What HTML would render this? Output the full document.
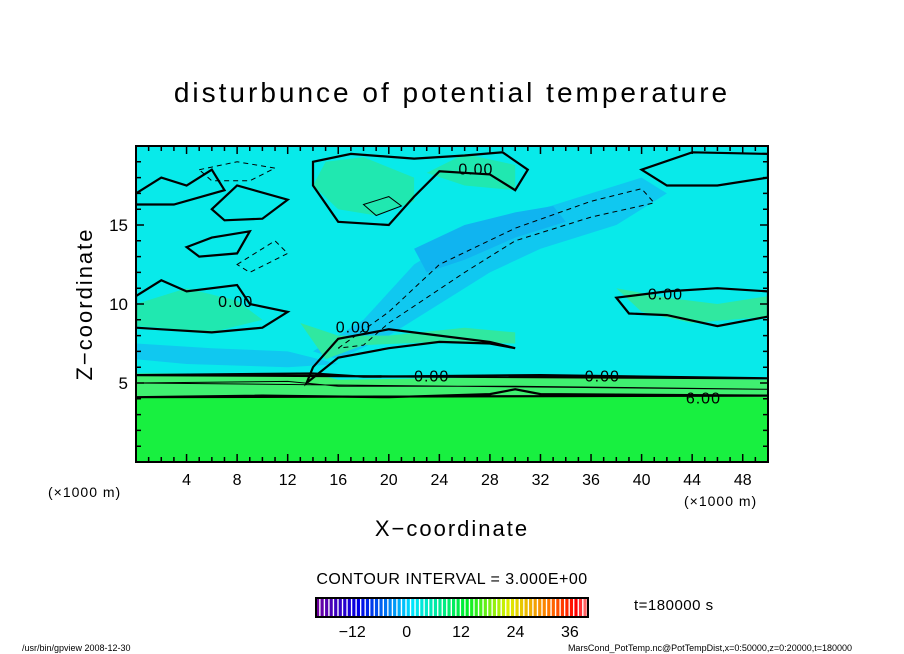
<!DOCTYPE html>
<html><head><meta charset="utf-8"><style>
body{margin:0;background:#fff;}
svg{display:block;font-family:"Liberation Sans",sans-serif;}
</style></head><body>
<svg id="c" width="904" height="654" viewBox="0 0 904 654">
<text x="452" y="102" text-anchor="middle" font-size="28" letter-spacing="3">disturbunce of potential temperature</text>
<defs><clipPath id="pc"><rect x="136" y="146" width="632" height="316"/></clipPath></defs>
<g id="plot" clip-path="url(#pc)"></g>
<rect x="136" y="146" width="632" height="316" fill="none" stroke="#000" stroke-width="2"/>
<g id="axes"></g>
<text x="92" y="304" font-size="22" letter-spacing="2" text-anchor="middle" transform="rotate(-90 92 304)">Z−coordinate</text>
<text x="452" y="536" font-size="22" letter-spacing="2" text-anchor="middle">X−coordinate</text>
<text x="48" y="497" font-size="14" letter-spacing="1">(×1000 m)</text>
<text x="684" y="506" font-size="14" letter-spacing="1">(×1000 m)</text>
<text x="452" y="584" font-size="16" letter-spacing="0.5" text-anchor="middle">CONTOUR INTERVAL = 3.000E+00</text>
<g id="cbar"></g>
<text x="634" y="610" font-size="15" letter-spacing="0.5">t=180000 s</text>
<text x="22" y="651" font-size="9">/usr/bin/gpview  2008-12-30</text>
<text x="852" y="651" font-size="9" text-anchor="end">MarsCond_PotTemp.nc@PotTempDist,x=0:50000,z=0:20000,t=180000</text>
</svg>
<script>
const xTicks=[4,8,12,16,20,24,28,32,36,40,44,48];
const zTicks=[5,10,15];
const cbLabels=[-12,0,12,24,36];
const cbMin=-20, cbMax=40;
const regions=[
 ["#10c8f0",[[14,7],[18,9],[22,12.5],[26,14.5],[30,15.5],[36,17],[40,18],[42,17],[38,15],[32,13.5],[28,12],[24,10],[20,8],[16,6.5]]],
 ["#10b4f0",[[22,13.5],[26,15],[30,15.8],[33,16.2],[34,15.2],[30,14.2],[26,12.8],[23,12]]],
 ["#20e8b0",[[14,17.5],[16,16],[19,15.6],[22,16.5],[22,18],[18,19.3],[15,19]]],
 ["#20e8b0",[[23,18.3],[26,17.5],[30,17.2],[30,18.8],[26,19.5]]],
 ["#30e8a0",[[13,8.8],[16,8],[20,8],[26,8.5],[30,8.2],[30,7.5],[24,7.6],[18,7.4],[15,6.5]]],
 ["#30e8a0",[[38,11],[42,10.4],[46,10],[50,10.5],[50,9.2],[44,8.8],[40,9.5]]],
 ["#20e8b0",[[0,10],[4,11],[8,10.2],[10,9],[6,8.2],[2,8.5],[0,8.6]]],
 ["#10c8f0",[[0,7.5],[6,7.2],[12,7],[16,6.2],[12,6],[4,6.2],[0,6.5]]],
 ["#40f070",[[0,5.6],[14,5.6],[16,5.2],[32,5.4],[50,5.2],[50,4],[0,4]]],
 ["#18f040",[[0,0],[50,0],[50,4.1],[30,4.2],[0,4.1]]]
];
const lines=[
 [0,2.2,[[0,5.5],[14,5.6],[18,5.4],[32,5.5],[50,5.3]]],
 [0,2.2,[[0,4.1],[10,4.2],[20,4.1],[28,4.3],[30,4.6],[32,4.3],[50,4.2]]],
 [0,1,[[0,5],[12,5.1],[16,4.8],[30,4.8],[50,4.6]]],
 [0,2.2,[[14,6],[16,7.8],[20,8.4],[24,8],[28,7.6],[30,7.2],[28,7.5],[24,7.6],[20,7.2],[16,6.6],[13.5,5]]],
 [0,2.2,[[0,10.5],[2,11.5],[4,10.8],[8,11.2],[9,10],[12,9.5],[10,8.5],[6,8.2],[2,8.4],[0,8.5]]],
 [0,2.2,[[14,17.5],[16,15.2],[20,15],[22,16.8],[24,18.4],[28,18.2],[30,17.2],[31,18.5],[29,19.6],[26,19.4],[22,19.2],[17,19.5],[14,19]]],
 [0,2.2,[[6,16],[8,17.5],[12,16.6],[10,15.4],[7,15.3]]],
 [0,2.2,[[4,13.6],[6,14.2],[9,14.6],[8,13.2],[5,13]]],
 [0,2.2,[[38,10.4],[42,10.8],[46,11],[50,10.8],[50,9.2],[46,8.6],[42,9.3],[39,9.4]]],
 [0,2.2,[[0,17],[2,18],[4,17.5],[6,18.5],[7,17.2],[3,16.3],[0,16.3]]],
 [0,2.2,[[40,18.5],[42,17.5],[46,17.5],[50,18],[50,19.5],[44,19.6]]],
 [1,1,[[16,7.2],[20,9.5],[24,12.5],[30,14.8],[36,16.5],[40,17.3],[41,16.4],[36,15.5],[30,14],[26,12],[20,8.8],[18,7.4]]],
 [1,1,[[5,18.5],[8,19],[11,18.6],[9,17.8],[6,17.8]]],
 [1,1,[[8,12.5],[11,14],[12,13.2],[9,12]]],
 [0,1,[[18,16.3],[20,16.8],[21,16.2],[19,15.6]]]
];
const labels=[["0.00",25.5,18.2],["0.00",6.5,9.8],["0.00",15.8,8.2],["0.00",22,5.1],["0.00",35.5,5.1],["0.00",40.5,10.3],["6.00",43.5,3.7]];
const NS="http://www.w3.org/2000/svg";
const X0=136,X1=768,Y0=462,Y1=146;
function sx(v){return X0+(v/50)*(X1-X0);}
function sz(v){return Y0-(v/20)*(Y0-Y1);}
function cx(v){return 316+(v-cbMin)/(cbMax-cbMin)*(588-316);}
const plot=document.getElementById('plot');
let bg=document.createElementNS(NS,'rect');
bg.setAttribute('x',X0);bg.setAttribute('y',Y1);bg.setAttribute('width',X1-X0);bg.setAttribute('height',Y0-Y1);bg.setAttribute('fill','#08eaea');


plot.appendChild(bg);
function pts(p){return p.map(q=>sx(q[0]).toFixed(1)+','+sz(q[1]).toFixed(1)).join(' ');}
regions.forEach(r=>{
 const e=document.createElementNS(NS,'polygon');
 e.setAttribute('points',pts(r[1]));e.setAttribute('fill',r[0]);
 
 
 plot.appendChild(e);
});
lines.forEach(l=>{
 const e=document.createElementNS(NS,'polygon');
 e.setAttribute('points',pts(l[2]));e.setAttribute('fill','none');e.setAttribute('stroke','#000');
 e.setAttribute('stroke-width',l[1]);if(l[0])e.setAttribute('stroke-dasharray','5,4');
 
 
 plot.appendChild(e);
});
labels.forEach(t=>{
 const e=document.createElementNS(NS,'text');
 e.setAttribute('x',sx(t[1]));e.setAttribute('y',sz(t[2]));e.setAttribute('font-size','16');e.setAttribute('letter-spacing','1');e.textContent=t[0];
 
 
 plot.appendChild(e);
});
const axes=document.getElementById('axes');
for(let v=1;v<50;v++){
 const e=document.createElementNS(NS,'path');const L=(v%4==0)?8:5;
 e.setAttribute('d',`M${sx(v)},${Y0}v${-L}M${sx(v)},${Y1}v${L}`);e.setAttribute('stroke','#000');e.setAttribute('stroke-width','1.5');
 
 
 axes.appendChild(e);
}
for(let v=1;v<20;v++){
 const e=document.createElementNS(NS,'path');const L=(v%5==0)?8:5;
 e.setAttribute('d',`M${X0},${sz(v)}h${L}M${X1},${sz(v)}h${-L}`);e.setAttribute('stroke','#000');e.setAttribute('stroke-width','1.5');
 
 
 axes.appendChild(e);
}
xTicks.forEach(v=>{
 const e=document.createElementNS(NS,'text');
 e.setAttribute('x',sx(v));e.setAttribute('y',485);e.setAttribute('font-size','16');e.setAttribute('text-anchor','middle');e.textContent=v;
 
 
 axes.appendChild(e);
});
zTicks.forEach(v=>{
 const e=document.createElementNS(NS,'text');
 e.setAttribute('x',128);e.setAttribute('y',sz(v)+6);e.setAttribute('font-size','17');e.setAttribute('text-anchor','end');e.textContent=v;
 
 
 axes.appendChild(e);
});
const cb=document.getElementById('cbar');
function hue(v){const t=(v-cbMin)/(cbMax-cbMin);
 const stops=[[0,[110,0,160]],[0.15,[0,0,230]],[0.35,[0,230,255]],[0.55,[0,240,40]],[0.7,[220,240,0]],[0.85,[255,120,0]],[0.95,[255,0,0]],[1,[255,150,150]]];
 for(let i=1;i<stops.length;i++){if(t<=stops[i][0]){const a=stops[i-1],b=stops[i];const f=(t-a[0])/(b[0]-a[0]);return 'rgb('+a[1].map((c,j)=>Math.round(c+(b[1][j]-c)*f)).join(',')+')';}}
 return 'rgb(255,150,150)';}
for(let v=cbMin;v<cbMax;v+=1){
 const e=document.createElementNS(NS,'rect');
 e.setAttribute('x',cx(v));e.setAttribute('y',598);e.setAttribute('width',(cx(v+1)-cx(v))*0.7);e.setAttribute('height',19);e.setAttribute('fill',hue(v));
 
 
 cb.appendChild(e);
}
let fr=document.createElementNS(NS,'rect');
fr.setAttribute('x',316);fr.setAttribute('y',598);fr.setAttribute('width',272);fr.setAttribute('height',19);fr.setAttribute('fill','none');fr.setAttribute('stroke','#000');fr.setAttribute('stroke-width','2');


cb.appendChild(fr);
cbLabels.forEach(v=>{
 const e=document.createElementNS(NS,'text');
 e.setAttribute('x',cx(v));e.setAttribute('y',637);e.setAttribute('font-size','16');e.setAttribute('text-anchor','middle');e.textContent=(v<0?'−':'')+Math.abs(v);
 
 
 cb.appendChild(e);
});
</script>
</body></html>
